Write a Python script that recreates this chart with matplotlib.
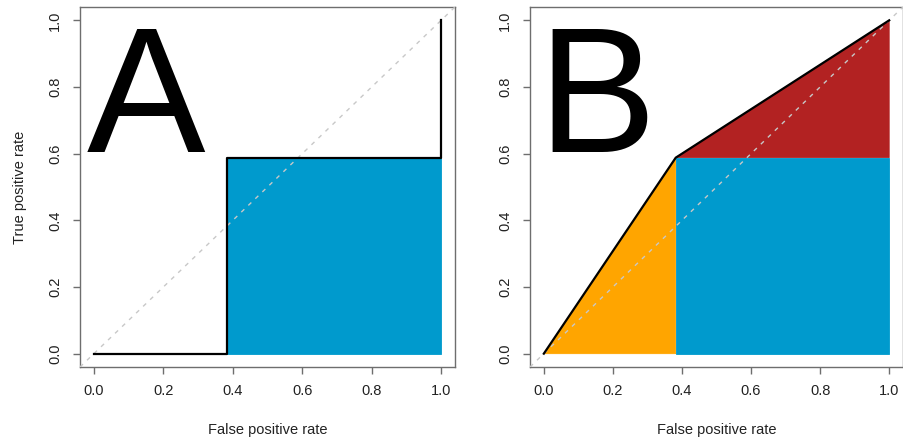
import matplotlib.pyplot as plt
import numpy as np

plt.rcParams['font.family'] = ['Liberation Sans', 'DejaVu Sans']

# operating point of the classifier
fpr_cut = 0.382
tpr_cut = 0.588

# step ROC (panel A) and interpolated ROC (panel B)
roc_a_x = [0.0, fpr_cut, fpr_cut, 1.0, 1.0]
roc_a_y = [0.0, 0.0, tpr_cut, tpr_cut, 1.0]
roc_b_x = [0.0, fpr_cut, 1.0]
roc_b_y = [0.0, tpr_cut, 1.0]

ticks = [0.0, 0.2, 0.4, 0.6, 0.8, 1.0]
tick_labels = ['0.0', '0.2', '0.4', '0.6', '0.8', '1.0']
panel_letters = ['A', 'B']

blue = '#009ACD'
orange = '#FFA500'
red = '#B22222'
frame = '#6e6e6e'

fig = plt.figure(figsize=(9.04, 4.45), dpi=100)
ax_a = fig.add_axes([80 / 904, 1 - 367 / 445, 375 / 904, 360 / 445])
ax_b = fig.add_axes([530 / 904, 1 - 367 / 445, 373 / 904, 360 / 445])


def style_axes(ax):
    ax.set_xlim(-0.04, 1.04)
    ax.set_ylim(-0.04, 1.04)
    for s in ax.spines.values():
        s.set_color(frame)
        s.set_linewidth(1.0)
    ax.set_xticks(ticks)
    ax.set_xticklabels(tick_labels)
    ax.set_yticks(ticks)
    ax.set_yticklabels(tick_labels, rotation=90, va='center')
    ax.tick_params(axis='both', direction='out', length=5, width=1.0,
                   color=frame, labelsize=10.5, labelcolor='#222222')
    ax.tick_params(axis='x', pad=7)
    ax.tick_params(axis='y', pad=8)
    ax.axline((0, 0), (1, 1), color='#c8c8c8', linestyle=(0, (3, 4)),
              linewidth=1.0, zorder=3)
    ax.set_xlabel('False positive rate', fontsize=10.5, color='#222222')
    ax.xaxis.set_label_coords(0.5, -0.175)
    ax.xaxis.label.set_va('center')


def area(ax, xs, ys, color):
    # thin same-colour edge so neighbouring patches leave no seam
    ax.fill(xs, ys, facecolor=color, edgecolor=color, linewidth=0.6, zorder=2)


# panel A: step curve, area under it
style_axes(ax_a)
area(ax_a, [fpr_cut, 1.0, 1.0, fpr_cut], [0.0, 0.0, tpr_cut, tpr_cut], blue)
ax_a.plot(roc_a_x, roc_a_y, color='black', linewidth=1.6, zorder=4)
ax_a.set_ylabel('True positive rate', fontsize=10.5, color='#222222')
ax_a.yaxis.set_label_coords(-0.16, 0.5)
ax_a.yaxis.label.set_va('center')

# panel B: interpolated curve, area split into three parts
style_axes(ax_b)
area(ax_b, [0.0, fpr_cut, fpr_cut], [0.0, tpr_cut, 0.0], orange)
area(ax_b, [fpr_cut, 1.0, 1.0], [tpr_cut, 1.0, tpr_cut], red)
area(ax_b, [fpr_cut, 1.0, 1.0, fpr_cut], [0.0, 0.0, tpr_cut, tpr_cut], blue)
ax_b.plot(roc_b_x, roc_b_y, color='black', linewidth=1.6, zorder=4)

for ax, letter in zip([ax_a, ax_b], panel_letters):
    ax.text(-0.02, 0.605, letter, fontsize=128, ha='left', va='baseline',
            color='black', zorder=5)

fig.savefig('out.png', dpi=100)
